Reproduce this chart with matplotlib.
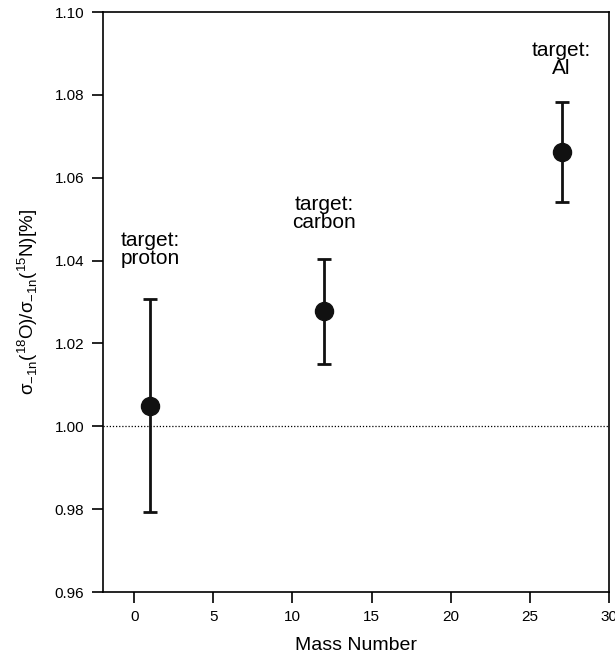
import matplotlib.pyplot as plt

plt.rcParams["font.family"] = ["Liberation Sans", "DejaVu Sans"]

mass = [1, 12, 27]
ratio = [1.005, 1.0278, 1.0662]
err = [0.0258, 0.0127, 0.0121]
labels = ["target:\nproton", "target:\ncarbon", "target:\nAl"]
label_y = [1.0472, 1.0558, 1.0930]

fig = plt.figure(figsize=(6.15, 6.6), dpi=100)
ax = fig.add_axes([102.5 / 615, 1 - 592 / 660, (609 - 102.5) / 615, (592 - 12) / 660])

ax.axhline(1.0, color="black", lw=0.9, ls=(0, (1, 1.5)))
ax.errorbar(mass, ratio, yerr=err, fmt="o", color="#111111", ms=13,
            elinewidth=2, capsize=5, capthick=2)
for x, y, t in zip(mass, label_y, labels):
    ax.text(x, y, t, ha="center", va="top", fontsize=15, linespacing=0.95)

ax.set_xlim(-2, 30)
ax.set_ylim(0.96, 1.10)
ax.set_xticks([0, 5, 10, 15, 20, 25, 30])
ax.set_yticks([0.96, 0.98, 1.00, 1.02, 1.04, 1.06, 1.08, 1.10])
ax.yaxis.set_major_formatter(plt.FormatStrFormatter("%.2f"))
ax.tick_params(direction="out", length=8, width=1.2, labelsize=11, pad=5)
for s in ax.spines.values():
    s.set_linewidth(1.2)
ax.set_xlabel("Mass Number", fontsize=14, labelpad=9)
ax.set_ylabel(r"σ$_{\mathregular{-1n}}$($^{\mathregular{18}}$O)/σ$_{\mathregular{-1n}}$($^{\mathregular{15}}$N)[%]",
              fontsize=13.5, labelpad=11)

fig.savefig("out.png", dpi=100)
